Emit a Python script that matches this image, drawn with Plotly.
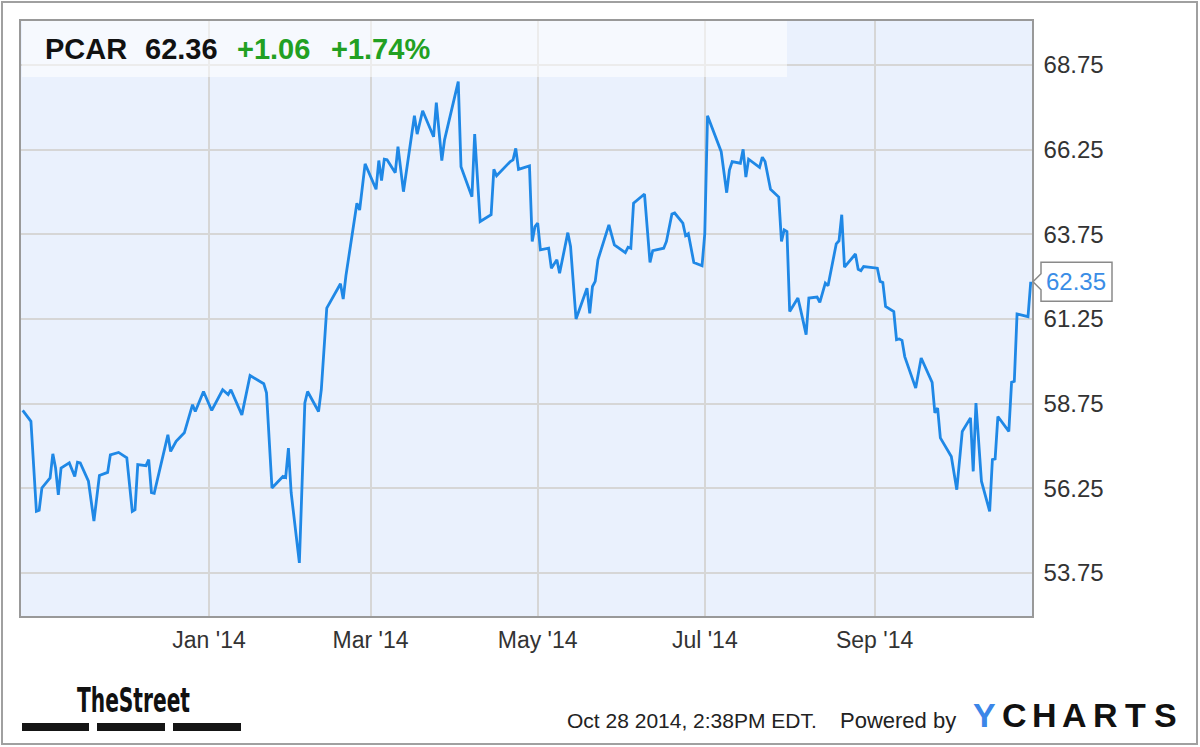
import plotly.graph_objects as go

# ---------------- data ----------------
dates = [
    "2013-10-25", "2013-10-28", "2013-10-30", "2013-10-31", "2013-11-01", "2013-11-04",
    "2013-11-05", "2013-11-06", "2013-11-07", "2013-11-08", "2013-11-11", "2013-11-13",
    "2013-11-14", "2013-11-15", "2013-11-18", "2013-11-20", "2013-11-22", "2013-11-25",
    "2013-11-26", "2013-11-29", "2013-12-02", "2013-12-04", "2013-12-05", "2013-12-06",
    "2013-12-09", "2013-12-10", "2013-12-11", "2013-12-12", "2013-12-17", "2013-12-18",
    "2013-12-20", "2013-12-23", "2013-12-26", "2013-12-27", "2013-12-30", "2014-01-02",
    "2014-01-06", "2014-01-08", "2014-01-09", "2014-01-13", "2014-01-16", "2014-01-21",
    "2014-01-22", "2014-01-24", "2014-01-28", "2014-01-29", "2014-01-30", "2014-01-31",
    "2014-02-03", "2014-02-05", "2014-02-06", "2014-02-10", "2014-02-11", "2014-02-13",
    "2014-02-18", "2014-02-19", "2014-02-20", "2014-02-24", "2014-02-25", "2014-02-27",
    "2014-03-03", "2014-03-04", "2014-03-05", "2014-03-06", "2014-03-07", "2014-03-10",
    "2014-03-11", "2014-03-13", "2014-03-17", "2014-03-18", "2014-03-20", "2014-03-24",
    "2014-03-25", "2014-03-27", "2014-03-28", "2014-04-02", "2014-04-03", "2014-04-07",
    "2014-04-08", "2014-04-10", "2014-04-14", "2014-04-15", "2014-04-16", "2014-04-21",
    "2014-04-22", "2014-04-23", "2014-04-24", "2014-04-28", "2014-04-29", "2014-04-30",
    "2014-05-01", "2014-05-02", "2014-05-05", "2014-05-06", "2014-05-08", "2014-05-09",
    "2014-05-12", "2014-05-13", "2014-05-15", "2014-05-19", "2014-05-20", "2014-05-21",
    "2014-05-22", "2014-05-23", "2014-05-27", "2014-05-29", "2014-06-02", "2014-06-03",
    "2014-06-04", "2014-06-05", "2014-06-09", "2014-06-10", "2014-06-11", "2014-06-12",
    "2014-06-16", "2014-06-17", "2014-06-19", "2014-06-20", "2014-06-23", "2014-06-24",
    "2014-06-25", "2014-06-27", "2014-06-30", "2014-07-01", "2014-07-02", "2014-07-07",
    "2014-07-08", "2014-07-09", "2014-07-10", "2014-07-11", "2014-07-14", "2014-07-15",
    "2014-07-16", "2014-07-17", "2014-07-21", "2014-07-22", "2014-07-23", "2014-07-25",
    "2014-07-28", "2014-07-29", "2014-07-30", "2014-07-31", "2014-08-01", "2014-08-04",
    "2014-08-05", "2014-08-07", "2014-08-08", "2014-08-11", "2014-08-12", "2014-08-14",
    "2014-08-15", "2014-08-18", "2014-08-19", "2014-08-20", "2014-08-21", "2014-08-25",
    "2014-08-26", "2014-08-27", "2014-08-28", "2014-09-02", "2014-09-03", "2014-09-04",
    "2014-09-05", "2014-09-08", "2014-09-09", "2014-09-10", "2014-09-11", "2014-09-12",
    "2014-09-16", "2014-09-18", "2014-09-22", "2014-09-23", "2014-09-24", "2014-09-25",
    "2014-09-29", "2014-10-01", "2014-10-03", "2014-10-06", "2014-10-07", "2014-10-08",
    "2014-10-10", "2014-10-13", "2014-10-14", "2014-10-15", "2014-10-16", "2014-10-20",
    "2014-10-21", "2014-10-22", "2014-10-23", "2014-10-27", "2014-10-28",
]
prices = [
    58.55, 58.23, 55.57, 55.60, 56.26, 56.56,
    57.27, 56.85, 56.06, 56.85, 57.00, 56.60,
    57.02, 57.00, 56.46, 55.28, 56.63, 56.72,
    57.24, 57.31, 57.15, 55.57, 55.62, 56.95,
    56.92, 57.10, 56.12, 56.10, 57.83, 57.34,
    57.64, 57.89, 58.72, 58.52, 59.11, 58.55,
    59.16, 59.02, 59.16, 58.42, 59.58, 59.34,
    59.07, 56.26, 56.60, 56.57, 57.44, 56.12,
    54.05, 58.77, 59.11, 58.52, 59.16, 61.57,
    62.29, 61.84, 62.53, 64.67, 64.47, 65.83,
    65.08, 65.93, 65.34, 65.97, 65.95, 65.57,
    66.34, 65.01, 67.25, 66.71, 67.40, 66.63,
    67.64, 65.93, 66.54, 68.26, 65.75, 64.86,
    66.71, 64.13, 64.33, 65.67, 65.48, 65.90,
    65.95, 66.29, 65.67, 65.77, 63.54, 63.98,
    64.08, 63.29, 63.34, 62.75, 63.00, 62.60,
    63.80, 63.39, 61.25, 62.16, 61.42, 62.21,
    62.36, 63.00, 64.03, 63.44, 63.21, 63.37,
    63.34, 64.67, 64.94, 63.98, 62.92, 63.27,
    63.34, 63.54, 64.35, 64.38, 64.08, 63.71,
    63.77, 62.92, 62.82, 63.77, 67.25, 66.19,
    65.57, 64.98, 65.65, 65.90, 65.85, 66.26,
    65.44, 65.97, 65.73, 66.03, 65.90, 65.08,
    64.85, 63.54, 63.88, 63.83, 61.47, 61.87,
    61.52, 60.79, 61.87, 61.90, 61.74, 62.31,
    62.23, 63.47, 63.56, 64.33, 62.78, 63.17,
    62.72, 62.68, 62.80, 62.75, 62.36, 62.33,
    61.62, 61.47, 60.64, 60.66, 60.62, 60.14,
    59.21, 60.10, 59.38, 58.48, 58.62, 57.74,
    57.19, 56.21, 57.93, 58.33, 56.75, 58.77,
    56.46, 55.57, 57.10, 57.12, 58.37, 57.93,
    59.38, 59.41, 61.40, 61.32, 62.35,
]

ticker = "PCAR"
last_price = "62.36"
change_abs = "+1.06"
change_pct = "+1.74%"

x_tick_vals = ["2014-01-01", "2014-03-01", "2014-05-01", "2014-07-01", "2014-09-01"]
x_tick_text = ["Jan '14", "Mar '14", "May '14", "Jul '14", "Sep '14"]
y_tick_vals = [53.75, 56.25, 58.75, 61.25, 63.75, 66.25, 68.75]

timestamp_text = "Oct 28 2014, 2:38PM EDT."
powered_text = "Powered by"
brand_letters = ["Y", "C", "H", "A", "R", "T", "S"]
street_text = "TheStreet"

# ---------------- layout geometry (pixels) ----------------
W, H = 1200, 747
L, T, R, B = 21, 21, 168, 131
PW = W - L - R
PH = H - T - B


def px(xp):
    return (xp - L) / PW


def py(yp):
    return (H - B - yp) / PH


FONT = "Liberation Sans, Arial, Helvetica, sans-serif"
LINE_BLUE = "#1f88e6"
GREEN = "#22a022"

fig = go.Figure()
fig.add_trace(go.Scatter(
    x=dates, y=prices, mode="lines",
    line=dict(color=LINE_BLUE, width=2.8),
    hoverinfo="skip", showlegend=False,
))

shapes = []
annotations = []

# header box (semi-transparent)
shapes.append(dict(type="rect", xref="paper", yref="paper",
                   x0=px(22), x1=px(787), y0=py(77), y1=1,
                   fillcolor="rgba(255,255,255,0.55)", line=dict(width=0), layer="above"))

hy = py(49)
annotations += [
    dict(text="<b>%s</b>" % ticker, x=px(43), y=hy, xanchor="left", yanchor="middle",
         font=dict(family=FONT, size=29, color="#111111")),
    dict(text="<b>%s</b>" % last_price, x=px(143), y=hy, xanchor="left", yanchor="middle",
         font=dict(family=FONT, size=29, color="#111111")),
    dict(text="<b>%s</b>" % change_abs, x=px(235), y=hy, xanchor="left", yanchor="middle",
         font=dict(family=FONT, size=29, color=GREEN)),
    dict(text="<b>%s</b>" % change_pct, x=px(329), y=hy, xanchor="left", yanchor="middle",
         font=dict(family=FONT, size=29, color=GREEN)),
]

# last-price callout
lv = prices[-1]
unit = PH / (70.05 - 52.48)  # px per price unit
hh = 19.5 / unit
ph = 8 / unit
bx0, bx1, tip = px(1041), px(1112), px(1033)
path = (f"M {bx0},{lv + hh} L {bx1},{lv + hh} L {bx1},{lv - hh} L {bx0},{lv - hh} "
        f"L {bx0},{lv - ph} L {tip},{lv} L {bx0},{lv + ph} Z")
shapes.append(dict(type="path", xref="paper", yref="y", path=path,
                   fillcolor="white", line=dict(color="#8a8a8a", width=1.5), layer="above"))
annotations.append(dict(text="%.2f" % lv, x=px(1076), y=lv, xref="paper", yref="y",
                        xanchor="center", yanchor="middle",
                        font=dict(family=FONT, size=24, color="#3a8de6")))

# outer frame
shapes.append(dict(type="rect", xref="paper", yref="paper",
                   x0=px(2), x1=px(1197), y0=py(744), y1=py(2),
                   fillcolor="rgba(0,0,0,0)", line=dict(color="#a0a0a0", width=2)))

# TheStreet logo
annotations.append(dict(text="<b>%s</b>" % street_text, x=px(75), y=py(700),
                        xanchor="left", yanchor="middle",
                        font=dict(family="DejaVu Sans Condensed, Liberation Sans Narrow, sans-serif",
                                  size=34, color="#111111")))
for a, b in [(22, 89), (97, 165), (173, 241)]:
    shapes.append(dict(type="rect", xref="paper", yref="paper",
                       x0=px(a), x1=px(b), y0=py(731), y1=py(723),
                       fillcolor="#151515", line=dict(width=0)))

# footer text
fy = py(720)
annotations.append(dict(text=timestamp_text, x=px(565), y=fy, xanchor="left", yanchor="middle",
                        font=dict(family=FONT, size=21, color="#222222")))
annotations.append(dict(text=powered_text, x=px(838), y=fy, xanchor="left", yanchor="middle",
                        font=dict(family=FONT, size=22, color="#222222")))
for i, ch in enumerate(brand_letters):
    annotations.append(dict(text="<b>%s</b>" % ch, x=px(984 + i * 30.3), y=py(715),
                            xanchor="center", yanchor="middle",
                            font=dict(family=FONT, size=34,
                                      color="#3b86e8" if i == 0 else "#111111")))

for a in annotations:
    a.setdefault("xref", "paper")
    a.setdefault("yref", "paper")
    a["showarrow"] = False

fig.update_layout(
    width=W, height=H, autosize=False,
    margin=dict(l=L, r=R, t=T, b=B, pad=0),
    paper_bgcolor="white", plot_bgcolor="#eaf1fd",
    shapes=shapes, annotations=annotations,
    showlegend=False,
    xaxis=dict(
        type="date", range=["2013-10-24 09:00", "2014-10-28 11:00"],
        tickmode="array", tickvals=x_tick_vals, ticktext=x_tick_text,
        showgrid=True, gridcolor="#d6d6d6", gridwidth=1.5,
        showline=True, mirror=True, linecolor="#999999", linewidth=1.5,
        ticks="", ticklabelstandoff=3, zeroline=False,
        tickfont=dict(family=FONT, size=23, color="#333333"),
    ),
    yaxis=dict(
        range=[52.48, 70.05], side="right",
        tickmode="array", tickvals=y_tick_vals, tickformat=".2f",
        showgrid=True, gridcolor="#d6d6d6", gridwidth=1.5,
        showline=True, mirror=True, linecolor="#999999", linewidth=1.5,
        ticks="", ticklabelstandoff=5, zeroline=False,
        tickfont=dict(family=FONT, size=24, color="#333333"),
    ),
)

post = """
document.body.style.margin='0';
document.body.style.overflow='hidden';
document.querySelectorAll('.annotation-text').forEach(function(t){
  if (t.textContent === 'TheStreet') {
    var b = t.getBBox();
    var x0 = b.x;
    t.setAttribute('transform', 'translate(' + x0 + ',0) scale(0.66,1) translate(' + (-x0) + ',0)');
  }
});
"""
fig.write_html("out.html", config={"displayModeBar": False}, post_script=post)
